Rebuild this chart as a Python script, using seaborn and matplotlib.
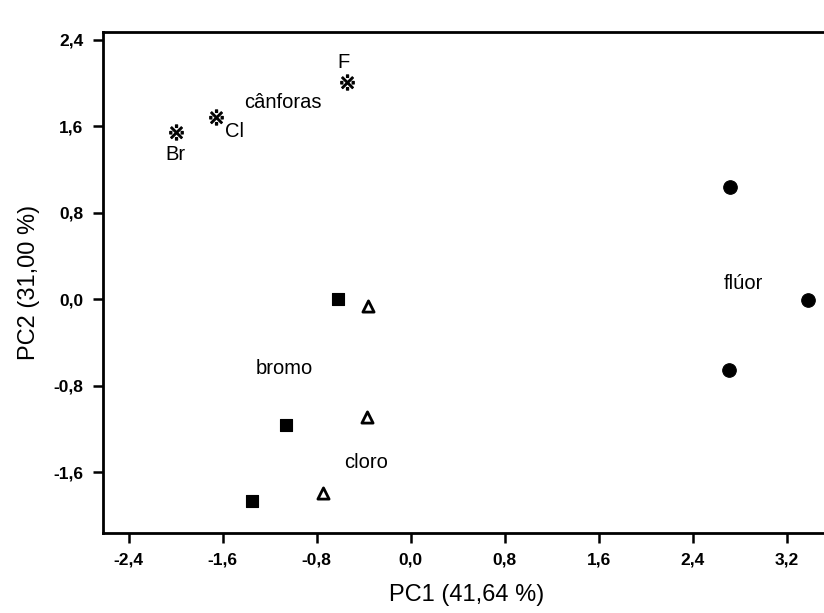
import matplotlib
matplotlib.use("Agg")
import matplotlib.pyplot as plt
import pandas as pd
import seaborn as sns

# Scores
groups = ["cânforas"] * 3 + ["bromo"] * 3 + ["cloro"] * 3 + ["flúor"] * 3
pc1 = [-2.00, -1.66, -0.54,
       -0.62, -1.06, -1.35,
       -0.36, -0.37, -0.75,
       2.72, 3.38, 2.71]
pc2 = [1.55, 1.68, 2.01,
       0.00, -1.16, -1.86,
       -0.06, -1.09, -1.79,
       1.04, -0.01, -0.65]

# text labels and where they sit
labels = ["F", "cânforas", "Cl", "Br", "bromo", "cloro", "flúor"]
label_x = [-0.57, -1.09, -1.50, -2.00, -1.08, -0.38, 2.83]
label_y = [2.19, 1.82, 1.55, 1.34, -0.64, -1.51, 0.15]

ticks = [-2.4, -1.6, -0.8, 0.0, 0.8, 1.6, 2.4, 3.2]
xtick_labels = ["-2,4", "-1,6", "-0,8", "0,0", "0,8", "1,6", "2,4", "3,2"]
yticks = [-1.6, -0.8, 0.0, 0.8, 1.6, 2.4]
ytick_labels = ["-1,6", "-0,8", "0,0", "0,8", "1,6", "2,4"]

df = pd.DataFrame({"PC1": pc1, "PC2": pc2, "grupo": groups})

sns.set_theme(style="ticks")
plt.rcParams["font.family"] = ["Liberation Sans", "DejaVu Sans"]
plt.rcParams["text.color"] = "black"
plt.rcParams["axes.labelcolor"] = "black"
plt.rcParams["xtick.color"] = "black"
plt.rcParams["ytick.color"] = "black"

fig = plt.figure(figsize=(8.24, 6.13), dpi=100)
ax = fig.add_axes([103 / 824, 80 / 613, (830 - 103) / 824, 501 / 613])

markers = {"cânforas": "$\u203b$", "bromo": "s", "cloro": "^", "flúor": "o"}
sizes = {"cânforas": 120, "bromo": 85, "cloro": 65, "flúor": 95}
for g, m in markers.items():
    sub = df[df["grupo"] == g]
    if g == "cloro":
        sns.scatterplot(data=sub, x="PC1", y="PC2", marker=m, s=sizes[g],
                        facecolor="white", edgecolor="black", linewidth=2,
                        ax=ax, legend=False)
    else:
        sns.scatterplot(data=sub, x="PC1", y="PC2", marker=m, s=sizes[g],
                        color="black", edgecolor="black", linewidth=0.8,
                        ax=ax, legend=False)

for t, x, y in zip(labels, label_x, label_y):
    ax.text(x, y, t, ha="center", va="center", fontsize=14.5, color="black")

ax.set_xlim(-2.62, 3.57)
ax.set_ylim(-2.16, 2.47)
ax.set_xticks(ticks)
ax.set_xticklabels(xtick_labels, fontweight="bold", fontsize=12.5)
ax.set_yticks(yticks)
ax.set_yticklabels(ytick_labels, fontweight="bold", fontsize=12.5)
ax.tick_params(direction="out", length=7, width=1.8, color="black", pad=7)

ax.spines["right"].set_visible(False)
for s in ["left", "top", "bottom"]:
    ax.spines[s].set_linewidth(2)
    ax.spines[s].set_color("black")

ax.set_xlabel("PC1 (41,64 %)", fontsize=17, labelpad=12)
ax.set_ylabel("PC2 (31,00 %)", fontsize=17, labelpad=10)

plt.savefig("out.png", dpi=100)
plt.close()
